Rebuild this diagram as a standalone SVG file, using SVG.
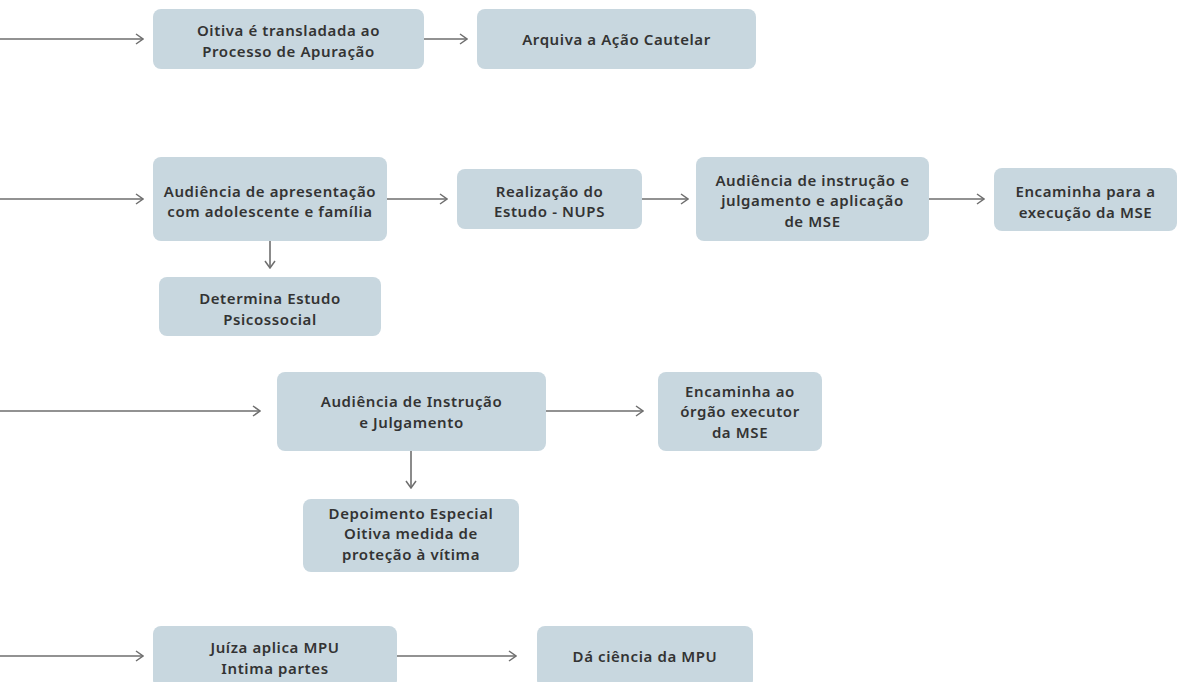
<svg xmlns="http://www.w3.org/2000/svg" width="1180" height="682" viewBox="0 0 1180 682">
<defs>
<style>
.box{fill:#c8d7df;}
.t{font-family:"Noto Sans","Open Sans","DejaVu Sans",sans-serif;font-weight:600;font-size:15px;letter-spacing:0.6px;fill:#333333;text-anchor:middle;}
.c{stroke:#6e6e6e;stroke-width:1.6;fill:none;}
</style>
<marker id="ah" viewBox="0 0 10 12" refX="9" refY="6" markerWidth="10" markerHeight="12" markerUnits="userSpaceOnUse" orient="auto">
<path d="M2,1 L9,6 L2,11" fill="none" stroke="#6e6e6e" stroke-width="1.5"/>
</marker>
</defs>
<rect width="1180" height="682" fill="#ffffff"/>
<g id="connectors">
<line class="c" x1="0" y1="39" x2="143" y2="39" marker-end="url(#ah)"/>
<line class="c" x1="424" y1="39" x2="467" y2="39" marker-end="url(#ah)"/>
<line class="c" x1="0" y1="199" x2="143" y2="199" marker-end="url(#ah)"/>
<line class="c" x1="387" y1="199" x2="447" y2="199" marker-end="url(#ah)"/>
<line class="c" x1="642" y1="199" x2="688" y2="199" marker-end="url(#ah)"/>
<line class="c" x1="929" y1="199" x2="984" y2="199" marker-end="url(#ah)"/>
<line class="c" x1="270" y1="241" x2="270" y2="268" marker-end="url(#ah)"/>
<line class="c" x1="0" y1="411" x2="260" y2="411" marker-end="url(#ah)"/>
<line class="c" x1="546" y1="411" x2="643" y2="411" marker-end="url(#ah)"/>
<line class="c" x1="411" y1="451" x2="411" y2="488" marker-end="url(#ah)"/>
<line class="c" x1="0" y1="656" x2="143" y2="656" marker-end="url(#ah)"/>
<line class="c" x1="397" y1="656" x2="516" y2="656" marker-end="url(#ah)"/>
</g>
<g id="n1"><rect class="box" x="153" y="9" width="271" height="60" rx="8"/>
<text class="t" x="288.5" y="36">Oitiva é transladada ao</text>
<text class="t" x="288.5" y="56.5">Processo de Apuração</text></g>
<g id="n2"><rect class="box" x="477" y="9" width="279" height="60" rx="8"/>
<text class="t" x="616.5" y="45">Arquiva a Ação Cautelar</text></g>
<g id="n3"><rect class="box" x="153" y="157" width="234" height="84" rx="8"/>
<text class="t" x="270" y="196.5">Audiência de apresentação</text>
<text class="t" x="270" y="217">com adolescente e família</text></g>
<g id="n4"><rect class="box" x="457" y="169" width="185" height="60" rx="8"/>
<text class="t" x="549.5" y="196.5">Realização do</text>
<text class="t" x="549.5" y="217">Estudo - NUPS</text></g>
<g id="n5"><rect class="box" x="696" y="157" width="233" height="84" rx="8"/>
<text class="t" x="812.5" y="185.5">Audiência de instrução e</text>
<text class="t" x="812.5" y="206">julgamento e aplicação</text>
<text class="t" x="812.5" y="226.5">de MSE</text></g>
<g id="n6"><rect class="box" x="994" y="168" width="183" height="63" rx="8"/>
<text class="t" x="1085.5" y="197">Encaminha para a</text>
<text class="t" x="1085.5" y="217.5">execução da MSE</text></g>
<g id="n7"><rect class="box" x="159" y="277" width="222" height="59" rx="8"/>
<text class="t" x="270" y="304">Determina Estudo</text>
<text class="t" x="270" y="324.5">Psicossocial</text></g>
<g id="n8"><rect class="box" x="277" y="372" width="269" height="79" rx="8"/>
<text class="t" x="411.5" y="407">Audiência de Instrução</text>
<text class="t" x="411.5" y="427.5">e Julgamento</text></g>
<g id="n9"><rect class="box" x="658" y="372" width="164" height="79" rx="8"/>
<text class="t" x="740" y="396.5">Encaminha ao</text>
<text class="t" x="740" y="417">órgão executor</text>
<text class="t" x="740" y="437.5">da MSE</text></g>
<g id="n10"><rect class="box" x="303" y="499" width="216" height="73" rx="8"/>
<text class="t" x="411" y="518.5">Depoimento Especial</text>
<text class="t" x="411" y="539">Oitiva medida de</text>
<text class="t" x="411" y="559.5">proteção à vítima</text></g>
<g id="n11"><rect class="box" x="153" y="626" width="244" height="62" rx="8"/>
<text class="t" x="275" y="653">Juíza aplica MPU</text>
<text class="t" x="275" y="673.5">Intima partes</text></g>
<g id="n12"><rect class="box" x="537" y="626" width="216" height="62" rx="8"/>
<text class="t" x="645" y="662">Dá ciência da MPU</text></g>
</svg>
